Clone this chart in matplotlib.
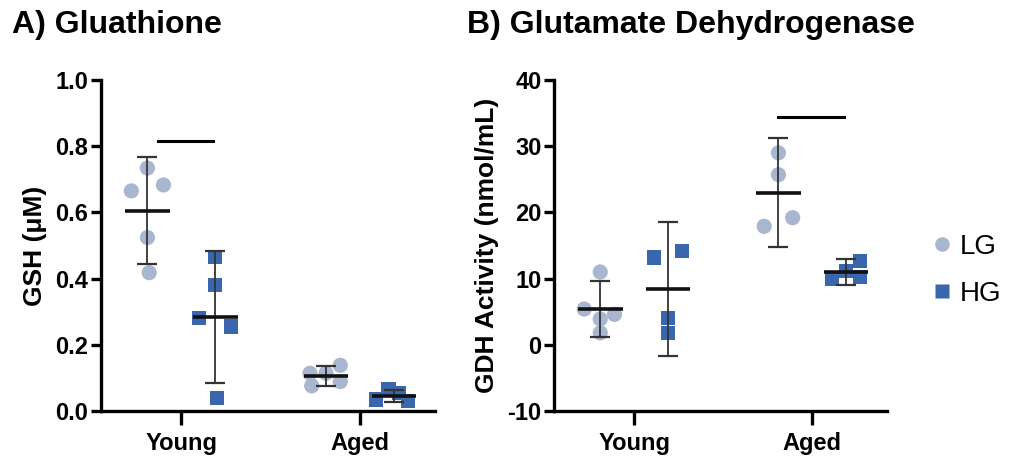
import matplotlib.pyplot as plt
from matplotlib.lines import Line2D

plt.rcParams['font.family'] = ['Liberation Sans', 'DejaVu Sans']
plt.rcParams['axes.unicode_minus'] = False

groups = ['Young', 'Aged']
LG_COLOR = '#a8b7cf'
HG_COLOR = '#3a66ad'

# A) Gluathione, GSH (uM)
gsh_lg = [[0.665, 0.734, 0.683, 0.524, 0.418],
          [0.114, 0.114, 0.138, 0.076, 0.089]]
gsh_hg = [[0.280, 0.380, 0.465, 0.255, 0.040],
          [0.035, 0.065, 0.055, 0.030]]
gsh_lg_mean = [0.605, 0.106]
gsh_lg_sd = [0.162, 0.030]
gsh_hg_mean = [0.284, 0.046]
gsh_hg_sd = [0.198, 0.018]

# B) Glutamate Dehydrogenase, GDH activity (nmol/mL)
gdh_lg = [[5.4, 11.0, 3.9, 4.6, 1.8],
          [29.0, 25.7, 17.9, 19.2]]
gdh_hg = [[13.2, 14.2, 4.1, 1.8],
          [9.9, 11.2, 12.7, 10.2]]
gdh_lg_mean = [5.4, 23.0]
gdh_lg_sd = [4.2, 8.3]
gdh_hg_mean = [8.4, 11.0]
gdh_hg_sd = [10.1, 2.0]

# horizontal jitter of the points (x offsets around each group column)
jit_a_lg = [[-0.09, 0.0, 0.09, 0.0, 0.01], [-0.09, 0.0, 0.08, -0.08, 0.08]]
jit_a_hg = [[-0.09, 0.0, 0.0, 0.09, 0.01], [-0.10, -0.03, 0.03, 0.08]]
jit_b_lg = [[-0.09, 0.0, 0.0, 0.08, 0.0], [0.0, 0.0, -0.08, 0.08]]
jit_b_hg = [[-0.08, 0.08, 0.0, 0.0], [-0.08, 0.0, 0.08, 0.08]]

off = 0.19
fig = plt.figure(figsize=(10.22, 4.58), dpi=100)
axA = fig.add_axes([0.0988, 0.1026, 0.3268, 0.7227])
axB = fig.add_axes([0.542, 0.1026, 0.326, 0.7227])


def draw(ax, lg, hg, lgm, lgs, hgm, hgs, jl, jh):
    for i in range(len(groups)):
        for vals, jit, m, s, dx, mk, sz, col in [
                (lg[i], jl[i], lgm[i], lgs[i], -off, 'o', 120, LG_COLOR),
                (hg[i], jh[i], hgm[i], hgs[i], off, 's', 105, HG_COLOR)]:
            xc = i + dx
            ax.scatter([xc + j for j in jit], vals, marker=mk, s=sz,
                       color=col, edgecolor='none', zorder=2)
            ax.errorbar([xc], [m], yerr=[s], fmt='none', ecolor='#333333',
                        elinewidth=1.3, capsize=7.5, capthick=1.6, zorder=3)
            ax.plot([xc - 0.125, xc + 0.125], [m, m], color='#111111',
                    lw=2.6, zorder=4, solid_capstyle='butt')
    ax.set_xlim(-0.45, 1.42)
    ax.set_xticks(range(len(groups)))
    ax.set_xticklabels(groups, fontsize=17, fontweight='bold')
    for s in ['top', 'right']:
        ax.spines[s].set_visible(False)
    for s in ['left', 'bottom']:
        ax.spines[s].set_linewidth(2.4)
    ax.tick_params(axis='y', width=2.4, length=7, labelsize=17, pad=2)
    ax.tick_params(axis='x', width=2.4, length=10, labelsize=17, pad=5)
    for t in ax.get_yticklabels():
        t.set_fontweight('bold')


draw(axA, gsh_lg, gsh_hg, gsh_lg_mean, gsh_lg_sd, gsh_hg_mean, gsh_hg_sd,
     jit_a_lg, jit_a_hg)
axA.set_ylim(0, 1.0)
axA.set_yticks([0.0, 0.2, 0.4, 0.6, 0.8, 1.0])
axA.set_yticklabels(['0.0', '0.2', '0.4', '0.6', '0.8', '1.0'],
                    fontsize=17, fontweight='bold')
axA.set_ylabel('GSH (μM)', fontsize=19, fontweight='bold', labelpad=6)
axA.plot([-0.13, 0.18], [0.815, 0.815], color='black', lw=2.2)

draw(axB, gdh_lg, gdh_hg, gdh_lg_mean, gdh_lg_sd, gdh_hg_mean, gdh_hg_sd,
     jit_b_lg, jit_b_hg)
axB.set_ylim(-10, 40)
axB.set_yticks([-10, 0, 10, 20, 30, 40])
axB.set_yticklabels(['-10', '0', '10', '20', '30', '40'],
                    fontsize=17, fontweight='bold')
axB.set_ylabel('GDH Activity (nmol/mL)', fontsize=19, fontweight='bold',
               labelpad=6)
axB.plot([1 - 0.19, 1 + 0.18], [34.4, 34.4], color='black', lw=2.2)

fig.text(0.012, 0.945, 'A) Gluathione', fontsize=23, fontweight='bold',
         va='center')
fig.text(0.457, 0.945, 'B) Glutamate Dehydrogenase', fontsize=23,
         fontweight='bold', va='center')

handles = [Line2D([], [], marker='o', ls='none', color=LG_COLOR, ms=10.5, mec='none'),
           Line2D([], [], marker='s', ls='none', color=HG_COLOR, ms=9.5, mec='none')]
fig.legend(handles, ['LG', 'HG'], loc='center left',
           bbox_to_anchor=(0.889, 0.41), frameon=False, fontsize=20,
           handletextpad=0.35, labelspacing=0.75, handlelength=0.6)

fig.savefig('out.png', dpi=100)
